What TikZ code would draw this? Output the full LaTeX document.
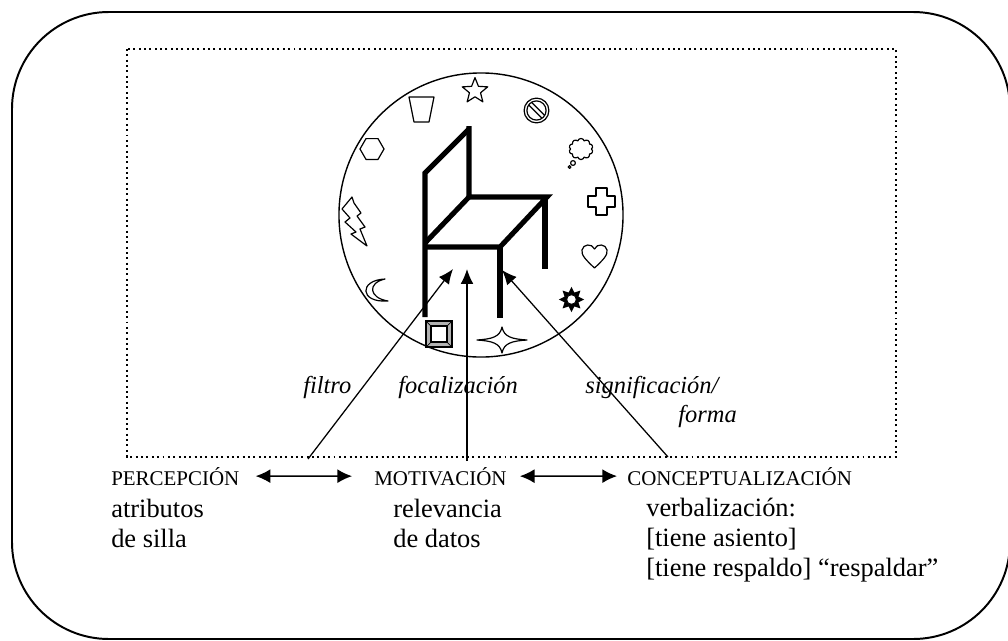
\documentclass[tikz,border=0pt]{standalone}
\usepackage{fontspec}
\setmainfont{Liberation Serif}
\usetikzlibrary{arrows.meta, shapes.geometric, shapes.symbols}

\tikzset{
  silla/.style={line width=3.6pt, line cap=butt, line join=miter},
  simbolo/.style={line width=0.85pt, line join=round},
  flecha/.style={line width=0.9pt, -{Latex[length=10.5pt,width=9pt]}},
  doble/.style={line width=1.1pt, {Latex[length=10.5pt,width=10pt]}-{Latex[length=10.5pt,width=10pt]}},
  rotulo/.style={anchor=base west, inner sep=0pt, font=\fontsize{14.9}{17}\selectfont},
  % multi-line text: base anchor sits on the last line
  cuerpo/.style={anchor=base west, inner sep=0pt, align=left, font=\fontsize{18.8}{21.1}\selectfont},
  etiqueta/.style={anchor=base west, inner sep=0pt, font=\fontsize{17.4}{21}\selectfont\itshape},
}

\begin{document}
\begin{tikzpicture}[x=0.025cm, y=-0.025cm]
\useasboundingbox (0,0) rectangle (1008,640);

% Frames
\draw[line width=1.4pt, rounded corners=2.42cm] (12,12) rectangle (1010,639);
\draw[line width=1.4pt, dash pattern=on 1.4pt off 2.4pt] (127,49) rectangle (896,457);
\draw[line width=1pt] (481,215) circle[radius=3.55cm];

% Chair
\draw[silla] (425,317) -- (425,173) -- (469,129);
\draw[silla] (469,126) -- (469,197) -- (547,197) -- (500,247) -- (425,247);
\draw[silla] (469,197) -- (425,243);
\draw[silla] (545,197) -- (545,269);
\draw[silla] (500,247) -- (500,318);

% Symbols round the chair
\node[star, star points=5, star point ratio=2.3, draw, simbolo, minimum size=19pt, inner sep=0pt] (estrella) at (475,91) {};
\draw[simbolo] (409,97) -- (434,97) -- (429,122) -- (414,122) -- cycle;
\draw[simbolo] (536.5,110.5) circle[radius=0.31cm] circle[radius=0.24cm];
\draw[simbolo] (531.3,102.0) -- (544.5,115.2) (528.5,104.8) -- (541.7,118.0);
\draw[simbolo] (384,149) -- (378,138.6) -- (366,138.6) -- (360,149) -- (366,159.4) -- (378,159.4) -- cycle;
\node[cloud, cloud puffs=10, draw, simbolo, minimum width=17pt, minimum height=15pt, inner sep=0pt] (nube) at (581,149) {};
\draw[simbolo] (573,163) circle[radius=0.06cm] (569.5,167) circle[radius=0.035cm];
\draw[simbolo] (352,197) -- (342,209) -- (350,218) -- (345,222) -- (356,232) -- (351,234) -- (367,246)
  -- (360,229) -- (365,227) -- (357,216) -- (361,213) -- (354,203) -- cycle;
\draw[simbolo] (596,188) -- (607,188) -- (607,196) -- (615,196) -- (615,207) -- (607,207) -- (607,215)
  -- (596,215) -- (596,207) -- (588,207) -- (588,196) -- (596,196) -- cycle;
\draw[simbolo] (594.5,268) .. controls (586,260) and (581,255) .. (582,250)
  .. controls (583,244) and (592,243) .. (594.5,249)
  .. controls (597,243) and (606,244) .. (607,250)
  .. controls (608,255) and (603,260) .. (594.5,268) -- cycle;
\draw[simbolo] (385,279) .. controls (359,280) and (359,303) .. (388,301)
  .. controls (369,298) and (367,283) .. (385,279) -- cycle;
\node[star, star points=8, star point ratio=1.7, fill=black, minimum size=18pt, inner sep=0pt] (sol) at (571.5,299.5) {};
\draw[fill=white, line width=0.6pt] (sol) circle[radius=0.12cm];
\draw[fill=gray!60, line width=0.8pt] (426,321) rectangle (452,347);
\draw[fill=white, line width=0.8pt] (431,326) rectangle (447,342);
\draw[line width=0.5pt] (426,321) -- (431,326) (452,321) -- (447,326) (426,347) -- (431,342) (452,347) -- (447,342);
\draw[simbolo] (477,340) .. controls (492,339) and (500,337) .. (502,327)
  .. controls (504,337) and (512,339) .. (527,340)
  .. controls (512,341) and (504,343) .. (502,353)
  .. controls (500,343) and (492,341) .. (477,340) -- cycle;

% Define nodes
\path (111,485) node[rotulo] (percepcion) {PERCEPCIÓN}
  (111,547) node[cuerpo] (atributos) {atributos\\de silla}
  (374,485) node[rotulo] (motivacion) {MOTIVACIÓN}
  (393,547) node[cuerpo] (relevancia) {relevancia\\de datos}
  (627,485) node[rotulo] (conceptualizacion) {CONCEPTUALIZACIÓN}
  (646,576) node[cuerpo] (verbalizacion) {verbalización:\\{[}tiene asiento{]}\\{[}tiene respaldo{]} “respaldar”}
  (303,393) node[etiqueta] (filtro) {filtro}
  (398,393) node[etiqueta] (focalizacion) {focalización}
  (585,393) node[etiqueta] (significacion) {significación/}
  (678,422) node[etiqueta] (forma) {forma}
  (308,459) coordinate (filtroIni)
  (453,269) coordinate (filtroFin)
  (467,461) coordinate (focoIni)
  (467,269) coordinate (focoFin)
  (668,457) coordinate (formaIni)
  (502,270) coordinate (formaFin)
;

% Arrows
\draw[flecha] (filtroIni) -- (filtroFin);
\draw[flecha] (focoIni) -- (focoFin);
\draw[flecha] (formaIni) -- (formaFin);
\draw[doble, shorten <=11.4pt, shorten >=15.6pt] (percepcion.east) -- (motivacion.west);
\draw[doble, shorten <=9.2pt, shorten >=7.1pt] (motivacion.east) -- (conceptualizacion.west);

\end{tikzpicture}
\end{document}
